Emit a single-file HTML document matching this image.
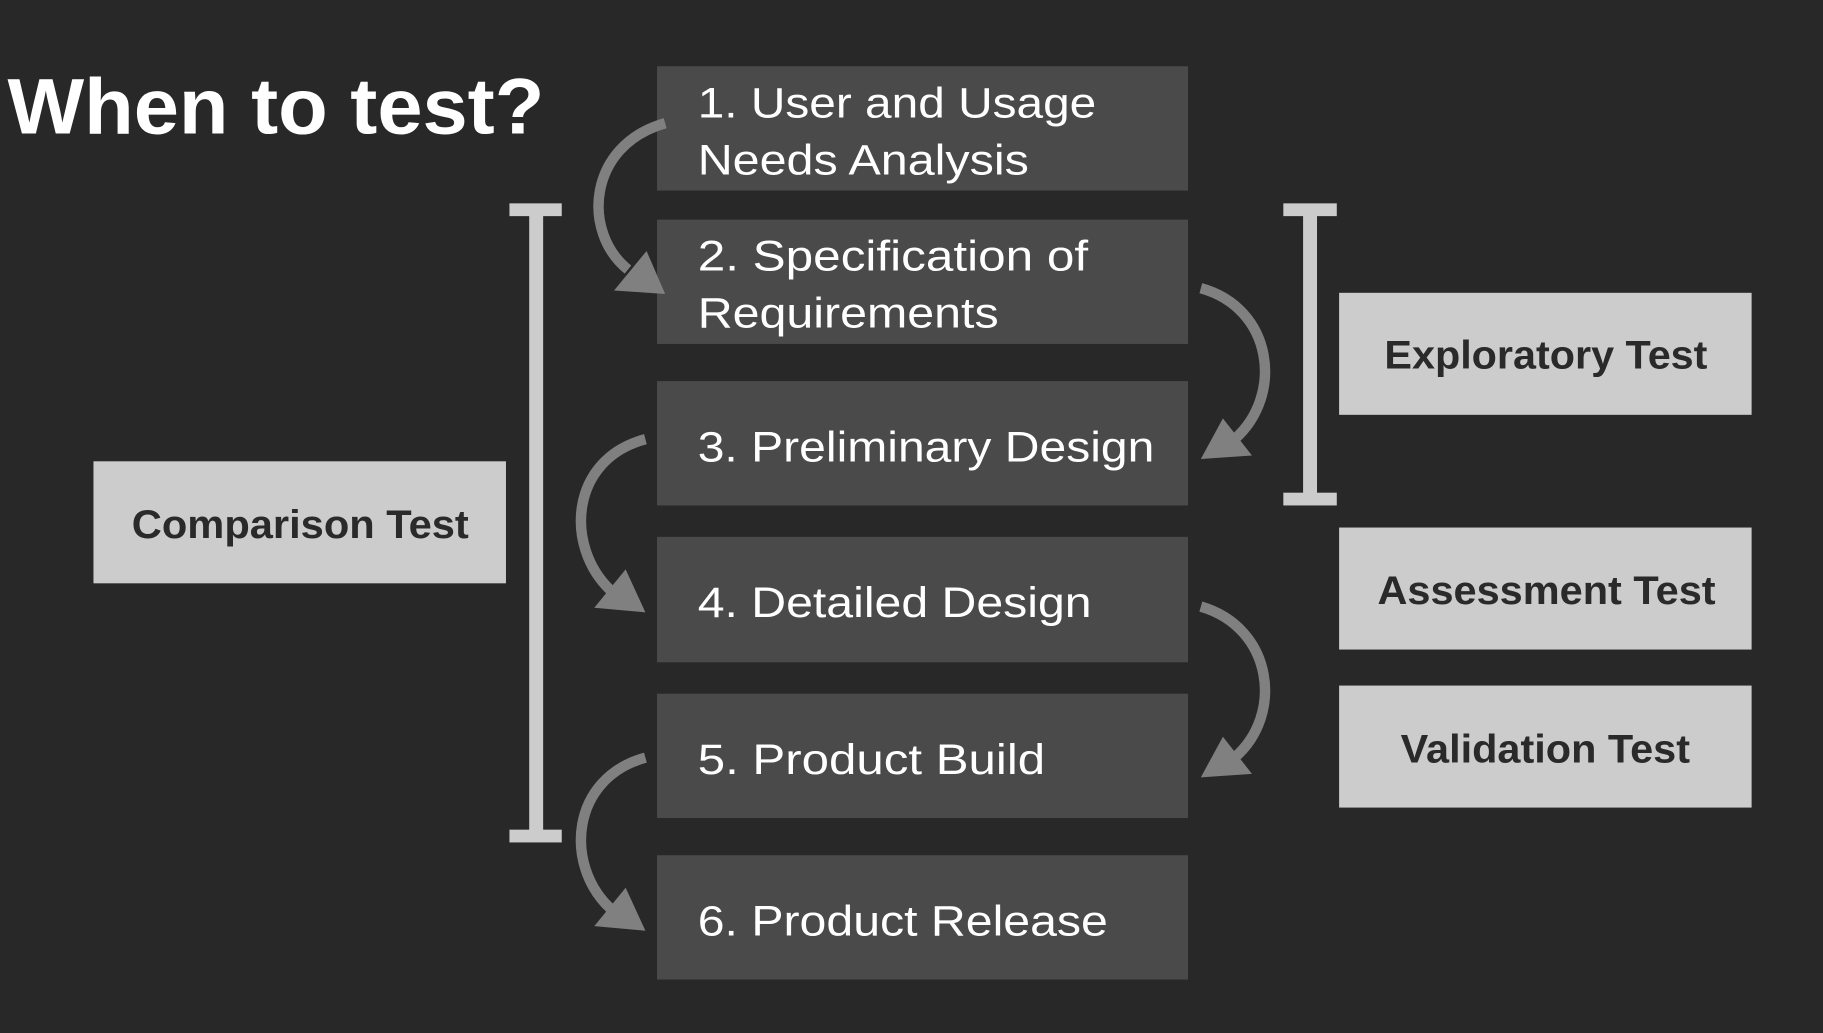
<!DOCTYPE html>
<html><head><meta charset="utf-8"><style>
html,body{margin:0;padding:0;background:#282828;}
svg{display:block;}
text{font-family:"Liberation Sans",sans-serif;}
</style></head><body>
<svg width="1823" height="1033" viewBox="0 0 1568 889" xmlns="http://www.w3.org/2000/svg">
<rect width="1568" height="889" fill="#282828"/>
<text x="6" y="115" font-size="68" font-weight="bold" fill="#fff" textLength="462" lengthAdjust="spacingAndGlyphs">When to test?</text>

<g fill="#4a4a4a">
<rect x="565" y="57" width="457" height="107"/>
<rect x="565" y="189" width="457" height="107"/>
<rect x="565" y="328" width="457" height="107"/>
<rect x="565" y="462" width="457" height="108"/>
<rect x="565" y="597" width="457" height="107"/>
<rect x="565" y="736" width="457" height="107"/>
</g>
<g fill="#fff" font-size="37" lengthAdjust="spacingAndGlyphs">
<text x="600" y="101" textLength="343" lengthAdjust="spacingAndGlyphs">1. User and Usage</text>
<text x="600" y="150" textLength="285" lengthAdjust="spacingAndGlyphs">Needs Analysis</text>
<text x="600" y="233" textLength="336" lengthAdjust="spacingAndGlyphs">2. Specification of</text>
<text x="600" y="282" textLength="259" lengthAdjust="spacingAndGlyphs">Requirements</text>
<text x="600" y="397" textLength="393" lengthAdjust="spacingAndGlyphs">3. Preliminary Design</text>
<text x="600" y="531" textLength="339" lengthAdjust="spacingAndGlyphs">4. Detailed Design</text>
<text x="600" y="666" textLength="299" lengthAdjust="spacingAndGlyphs">5. Product Build</text>
<text x="600" y="805" textLength="353" lengthAdjust="spacingAndGlyphs">6. Product Release</text>
</g>

<g fill="#cccccc">
<rect x="80" y="397" width="355" height="105"/>
<rect x="1152" y="252" width="355" height="105"/>
<rect x="1152" y="454" width="355" height="105"/>
<rect x="1152" y="590" width="355" height="105"/>
<rect x="455" y="180" width="12" height="540"/>
<rect x="438" y="175" width="45" height="11"/>
<rect x="438" y="714" width="45" height="11"/>
<rect x="1121" y="180" width="12" height="250"/>
<rect x="1104" y="175" width="46" height="11"/>
<rect x="1104" y="424" width="46" height="11"/>
</g>
<g fill="#2a2a2a" font-size="34" font-weight="bold">
<text x="113" y="463" textLength="290" lengthAdjust="spacingAndGlyphs">Comparison Test</text>
<text x="1191" y="317" textLength="278" lengthAdjust="spacingAndGlyphs">Exploratory Test</text>
<text x="1185" y="520" textLength="291" lengthAdjust="spacingAndGlyphs">Assessment Test</text>
<text x="1205" y="656" textLength="249" lengthAdjust="spacingAndGlyphs">Validation Test</text>
</g>

<g fill="none" stroke="#808080" stroke-width="9">
<path d="M572,106 C505,125 500,200 540,232"/>
<path d="M555,378 C490,395 485,470 525,508"/>
<path d="M555,652 C490,670 485,745 525,782"/>
<path d="M1033,248 C1095,265 1105,340 1062,378"/>
<path d="M1033,522 C1095,540 1105,615 1062,652"/>
</g>
<g fill="#808080">
<polygon points="572,253 528,250 556,216"/>
<polygon points="555,527 511,523 538,490"/>
<polygon points="555,801 511,797 538,764"/>
<polygon points="1033,395 1077,392 1052,360"/>
<polygon points="1033,669 1077,666 1052,634"/>
</g>
</svg>
</body></html>
